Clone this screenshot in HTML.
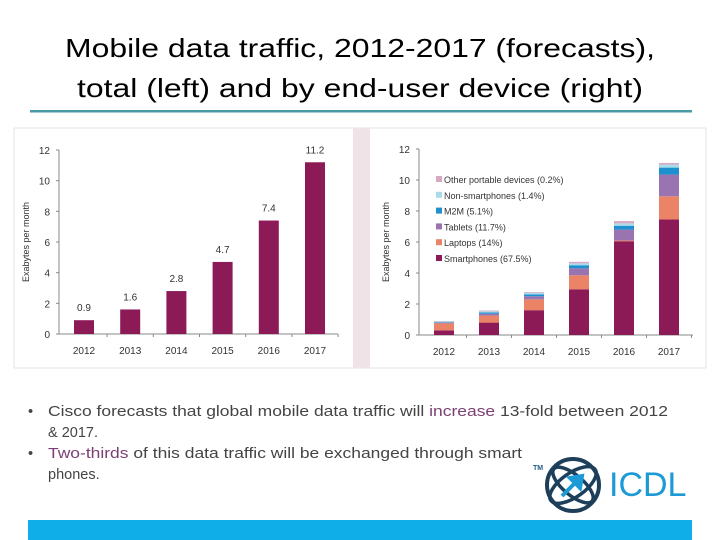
<!DOCTYPE html>
<html><head><meta charset="utf-8"><style>
body{margin:0;background:#fff;}
svg{display:block;font-family:"Liberation Sans",Arial,sans-serif;}
</style></head><body>
<svg id="s" width="720" height="540" viewBox="0 0 720 540">
<text x="360" y="57" font-size="26" text-anchor="middle" textLength="590" lengthAdjust="spacingAndGlyphs" fill="#000">Mobile data traffic, 2012-2017 (forecasts),</text>
<text x="360" y="97" font-size="26" text-anchor="middle" textLength="566" lengthAdjust="spacingAndGlyphs" fill="#000">total (left) and by end-user device (right)</text>
<rect x="30" y="110" width="662" height="2.5" fill="#4a9aa5"/>
<rect x="14" y="128" width="692" height="240" fill="#fff" stroke="#e8e0e4"/>
<rect x="353" y="128" width="17" height="240" fill="#efe3e8"/>
<g id="left"></g>
<g id="right"></g>
<g font-size="14.5" fill="#444">
<text x="28" y="416">•</text>
<text x="48" y="416" textLength="620" lengthAdjust="spacingAndGlyphs">Cisco forecasts that global mobile data traffic will <tspan fill="#7b3f73">increase</tspan> 13-fold between 2012</text>
<text x="48" y="437">&amp; 2017.</text>
<text x="28" y="458">•</text>
<text x="48" y="458" textLength="474" lengthAdjust="spacingAndGlyphs"><tspan fill="#7b3f73">Two-thirds</tspan> of this data traffic will be exchanged through smart</text>
<text x="48" y="479">phones.</text>
</g>
<g>
<text x="533" y="470" font-size="7" fill="#1c5a8a" font-weight="bold">TM</text>
<circle cx="573" cy="485" r="26" fill="none" stroke="#1d3f5a" stroke-width="4"/>
<ellipse cx="573" cy="485" rx="27" ry="12" fill="none" stroke="#1d3f5a" stroke-width="3.5" transform="rotate(-35 573 485)"/>
<ellipse cx="573" cy="485" rx="25" ry="10" fill="none" stroke="#1d3f5a" stroke-width="3.5" transform="rotate(40 573 485)"/>
<path d="M562 496 L578 480 M570 478 L582 476 L580 488 Z" stroke="#1c9ad6" stroke-width="4" fill="#1c9ad6"/>
<text x="609" y="496" font-size="34" fill="#1c9ad6">ICDL</text>
</g>
<rect x="28" y="520" width="664" height="20" fill="#10aee8"/>
</svg>
<script>
const years=["2012","2013","2014","2015","2016","2017"];
const totals=[0.9,1.6,2.8,4.7,7.4,11.2];
const totalLabels=["0.9","1.6","2.8","4.7","7.4","11.2"];
const yTicks=[0,2,4,6,8,10,12];
const smartphones=[0.3,0.8,1.6,2.95,6.05,7.45];
const laptops=[0.45,0.45,0.7,0.9,0.05,1.5];
const tablets=[0.05,0.12,0.2,0.45,0.7,1.4];
const m2m=[0.03,0.08,0.12,0.2,0.25,0.45];
const nonSmart=[0.05,0.08,0.1,0.12,0.15,0.2];
const otherDev=[0.02,0.05,0.05,0.1,0.15,0.1];
const seriesNames=["Other portable devices (0.2%)","Non-smartphones (1.4%)","M2M (5.1%)","Tablets (11.7%)","Laptops (14%)","Smartphones (67.5%)"];
const NS="http://www.w3.org/2000/svg";
function mk(p,t,a){const e=document.createElementNS(NS,t);for(const k in a)e.setAttribute(k,a[k]);p.appendChild(e);return e;}
function axes(g,x0,x1,y0,y12,first,step,title){
  const ys=v=>y0-(y0-y12)*v/12;
  const xs=i=>first+i*step;
  let l=mk(g,'line',{x1:x0,y1:y12,x2:x0,y2:y0,stroke:'#888'});
  
  
  l=mk(g,'line',{x1:x0,y1:y0,x2:x1,y2:y0,stroke:'#888'});
  
  
  yTicks.forEach(v=>{
    mk(g,'line',{x1:x0-3,y1:ys(v),x2:x0,y2:ys(v),stroke:'#888'});
    const t=mk(g,'text',{x:x0-9,y:ys(v)+4,'font-size':10,'text-anchor':'end',fill:'#333'});
    t.textContent=v;
    
    
  });
  years.forEach((y,i)=>{
    mk(g,'line',{x1:xs(i)+step/2,y1:y0,x2:xs(i)+step/2,y2:y0+3,stroke:'#888'});
    const t=mk(g,'text',{x:xs(i),y:y0+20,'font-size':10,'text-anchor':'middle',fill:'#333'});
    t.textContent=y;
    
    
  });
  const tt=mk(g,'text',{x:0,y:0,'font-size':9,'text-anchor':'middle',fill:'#333',transform:`translate(${x0-30},${(y0+y12)/2}) rotate(-90)`});
  tt.textContent=title;
  
  
  return [xs,ys];
}
(function(){
  const g=document.getElementById('left');
  const [xs,ys]=axes(g,59,338,334,150,84,46.2,"Exabytes per month");
  totals.forEach((v,i)=>{
    const r=mk(g,'rect',{x:xs(i)-10,y:ys(v),width:20,height:ys(0)-ys(v),fill:'#8c1a57'});
    
    
    const t=mk(g,'text',{x:xs(i),y:ys(v)-9,'font-size':10,'text-anchor':'middle',fill:'#333'});
    t.textContent=totalLabels[i];
    
    
  });
})();
(function(){
  const g=document.getElementById('right');
  const [xs,ys]=axes(g,419,693,335,149,444,45,"Exabytes per month");
  const series=[smartphones,laptops,tablets,m2m,nonSmart,otherDev];
  const colors=['#8c1a57','#eb8466','#9a74b0','#1e8fcf','#a9dbe8','#d9a9c3'];
  const keys=['smartphones','laptops','tablets','m2m','non-smartphones','other'];
  years.forEach((y,i)=>{
    let acc=0;
    series.forEach((s,k)=>{
      const r=mk(g,'rect',{x:xs(i)-10,y:ys(acc+s[i]),width:20,height:ys(acc)-ys(acc+s[i]),fill:colors[k]});
      
      
      acc+=s[i];
    });
  });
  seriesNames.forEach((n,j)=>{
    const yy=180+j*15.8;
    const k=5-j;
    const r=mk(g,'rect',{x:436,y:yy-4,width:6,height:6,fill:colors[k]});
    
    
    const t=mk(g,'text',{x:444,y:yy+3,'font-size':9,fill:'#333'});
    t.textContent=n;
    
    
  });
})();
</script>
</body></html>
